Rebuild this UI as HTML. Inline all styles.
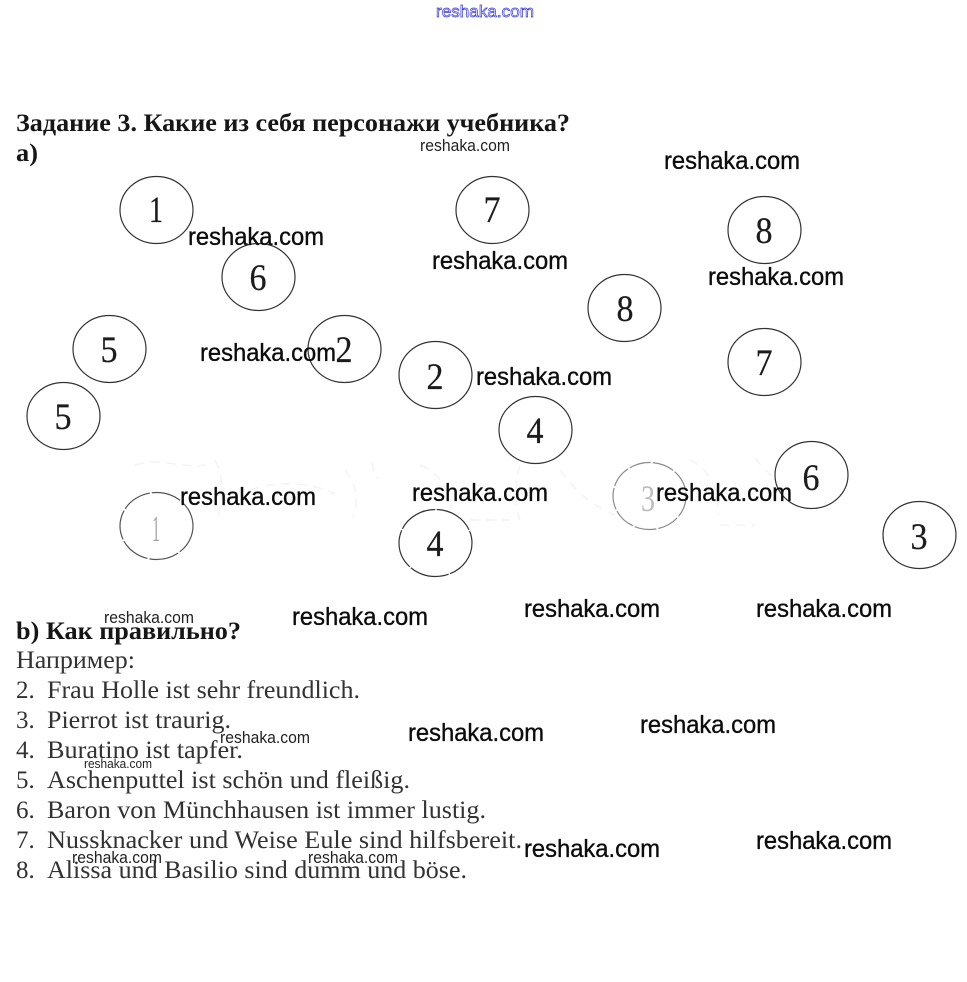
<!DOCTYPE html>
<html lang="ru"><head><meta charset="utf-8"><title>Задание 3</title>
<style>
html,body{margin:0;padding:0;background:#fff;width:967px;height:982px;overflow:hidden}
svg{display:block}
.h{font:bold 25px "Liberation Serif","Noto Serif CJK SC",serif;fill:#161616;filter:url(#b)}
.t{font:25px "Liberation Serif","Noto Serif CJK SC",serif;fill:#333;filter:url(#b)}
.n{font:37px "Liberation Serif",serif;fill:#1c1c1c;stroke:#1c1c1c;stroke-width:.25;text-anchor:middle}
.c{fill:none;stroke:#333;stroke-width:1.2}
.w{font:25px "Liberation Sans",sans-serif;fill:#0c0c0c;stroke:#0c0c0c;stroke-width:.35}
.s{font:17px "Liberation Sans",sans-serif;fill:#222}
.x{font:13px "Liberation Sans",sans-serif;fill:#222}
.f{fill:none;stroke:#f3f3f3;stroke-width:1.5;stroke-dasharray:9 7}
</style></head><body>
<svg width="967" height="982" viewBox="0 0 967 982" xmlns="http://www.w3.org/2000/svg">
<defs><filter id="b" x="-2%" y="-20%" width="104%" height="140%"><feGaussianBlur stdDeviation="0.35"/></filter></defs>
<rect width="967" height="982" fill="#fff"/>
<text x="436" y="17" textLength="98" lengthAdjust="spacingAndGlyphs" style="font:17px 'Liberation Sans',sans-serif;fill:#fff;stroke:#3434dc;stroke-width:.7">reshaka.com</text>

<text class="h" x="16" y="131" textLength="554" lengthAdjust="spacingAndGlyphs">Задание 3. Какие из себя персонажи учебника?</text>
<text class="h" x="16" y="161" textLength="22" lengthAdjust="spacingAndGlyphs">a)</text>

<g class="f">
<path d="M135 465c25-8 50 4 70 0M215 460c10 20 8 40 2 60M250 490c30-10 60-8 85 4M345 470c12 14 14 30 8 48M372 462c2 8 2 14 6 16M420 465c20 8 30 25 32 50M470 520h40M520 465c-5 20-6 40 0 55M560 470c15 20 30 35 55 45M690 460c20 10 30 30 28 55M755 458c6 8 12 14 20 20M720 525h35"/>
</g>

<g class="c">
<ellipse cx="156.5" cy="210" rx="36.5" ry="33.5"/>
<ellipse cx="492.5" cy="210" rx="36.5" ry="33.5"/>
<ellipse cx="764.5" cy="230" rx="36.5" ry="33.5"/>
<ellipse cx="258.5" cy="277" rx="36.5" ry="33.5"/>
<ellipse cx="624.5" cy="308" rx="36.5" ry="33.5"/>
<ellipse cx="109.5" cy="349" rx="36.5" ry="33.5"/>
<ellipse cx="344.5" cy="349" rx="36.5" ry="33.5"/>
<ellipse cx="435.5" cy="375" rx="36.5" ry="33.5"/>
<ellipse cx="764.5" cy="362" rx="36.5" ry="33.5"/>
<ellipse cx="63.5" cy="416" rx="36.5" ry="33.5"/>
<ellipse cx="535.5" cy="430" rx="36.5" ry="33.5"/>
<ellipse cx="811.5" cy="475" rx="36.5" ry="33.5"/>
<ellipse cx="919.5" cy="535" rx="36.5" ry="33.5"/>
<ellipse cx="435.5" cy="543" rx="36.5" ry="33.5" stroke-dasharray="40 1.5"/>
<ellipse cx="156.5" cy="526" rx="36.5" ry="33.5" stroke-dasharray="30 2" style="stroke:#555"/>
<ellipse cx="649.5" cy="496" rx="36.5" ry="33.5" stroke-dasharray="22 2" style="stroke:#8a8a8a"/>
</g>

<g>
<text class="n" x="156" y="222" textLength="14" lengthAdjust="spacingAndGlyphs">1</text>
<text class="n" x="492" y="222" textLength="17" lengthAdjust="spacingAndGlyphs">7</text>
<text class="n" x="764" y="243" textLength="17" lengthAdjust="spacingAndGlyphs">8</text>
<text class="n" x="258" y="290" textLength="17" lengthAdjust="spacingAndGlyphs">6</text>
<text class="n" x="625" y="321" textLength="17" lengthAdjust="spacingAndGlyphs">8</text>
<text class="n" x="109" y="362" textLength="17" lengthAdjust="spacingAndGlyphs">5</text>
<text class="n" x="344" y="362" textLength="17" lengthAdjust="spacingAndGlyphs">2</text>
<text class="n" x="435" y="389" textLength="17" lengthAdjust="spacingAndGlyphs">2</text>
<text class="n" x="764" y="375" textLength="17" lengthAdjust="spacingAndGlyphs">7</text>
<text class="n" x="63" y="429" textLength="17" lengthAdjust="spacingAndGlyphs">5</text>
<text class="n" x="535" y="443" textLength="17" lengthAdjust="spacingAndGlyphs">4</text>
<text class="n" x="811" y="490" textLength="17" lengthAdjust="spacingAndGlyphs">6</text>
<text class="n" x="919" y="549" textLength="17" lengthAdjust="spacingAndGlyphs">3</text>
<text class="n" x="435" y="556" textLength="17" lengthAdjust="spacingAndGlyphs">4</text>
<text class="n" x="156" y="541" textLength="8" lengthAdjust="spacingAndGlyphs" style="fill:#aaa;stroke:none">1</text>
<text class="n" x="648" y="511" textLength="14" lengthAdjust="spacingAndGlyphs" style="fill:#bbb;stroke:none">3</text>
</g>

<text class="h" x="16" y="639" textLength="225" lengthAdjust="spacingAndGlyphs">b) Как правильно?</text>
<text class="t" x="16" y="668" textLength="119" lengthAdjust="spacingAndGlyphs">Например:</text>
<g>
<text class="t" x="16" y="698">2.</text><text class="t" x="47" y="698" textLength="313" lengthAdjust="spacingAndGlyphs">Frau Holle ist sehr freundlich.</text>
<text class="t" x="16" y="728">3.</text><text class="t" x="47" y="728" textLength="184" lengthAdjust="spacingAndGlyphs">Pierrot ist traurig.</text>
<text class="t" x="16" y="758">4.</text><text class="t" x="47" y="758" textLength="196" lengthAdjust="spacingAndGlyphs">Buratino ist tapfer.</text>
<text class="t" x="16" y="788">5.</text><text class="t" x="47" y="788" textLength="363" lengthAdjust="spacingAndGlyphs">Aschenputtel ist schön und fleißig.</text>
<text class="t" x="16" y="818">6.</text><text class="t" x="47" y="818" textLength="439" lengthAdjust="spacingAndGlyphs">Baron von Münchhausen ist immer lustig.</text>
<text class="t" x="16" y="848">7.</text><text class="t" x="47" y="848" textLength="475" lengthAdjust="spacingAndGlyphs">Nussknacker und Weise Eule sind hilfsbereit.</text>
<text class="t" x="16" y="878">8.</text><text class="t" x="47" y="878" textLength="420" lengthAdjust="spacingAndGlyphs">Alissa und Basilio sind dumm und böse.</text>
</g>

<g>
<text class="w" x="664" y="169" textLength="136" lengthAdjust="spacingAndGlyphs">reshaka.com</text>
<text class="w" x="188" y="245" textLength="136" lengthAdjust="spacingAndGlyphs">reshaka.com</text>
<text class="w" x="432" y="269" textLength="136" lengthAdjust="spacingAndGlyphs">reshaka.com</text>
<text class="w" x="708" y="285" textLength="136" lengthAdjust="spacingAndGlyphs">reshaka.com</text>
<text class="w" x="200" y="361" textLength="136" lengthAdjust="spacingAndGlyphs">reshaka.com</text>
<text class="w" x="476" y="385" textLength="136" lengthAdjust="spacingAndGlyphs">reshaka.com</text>
<text class="w" x="180" y="505" textLength="136" lengthAdjust="spacingAndGlyphs">reshaka.com</text>
<text class="w" x="412" y="501" textLength="136" lengthAdjust="spacingAndGlyphs">reshaka.com</text>
<text class="w" x="656" y="501" textLength="136" lengthAdjust="spacingAndGlyphs">reshaka.com</text>
<text class="w" x="292" y="625" textLength="136" lengthAdjust="spacingAndGlyphs">reshaka.com</text>
<text class="w" x="524" y="617" textLength="136" lengthAdjust="spacingAndGlyphs">reshaka.com</text>
<text class="w" x="756" y="617" textLength="136" lengthAdjust="spacingAndGlyphs">reshaka.com</text>
<text class="w" x="408" y="741" textLength="136" lengthAdjust="spacingAndGlyphs">reshaka.com</text>
<text class="w" x="640" y="733" textLength="136" lengthAdjust="spacingAndGlyphs">reshaka.com</text>
<text class="w" x="524" y="857" textLength="136" lengthAdjust="spacingAndGlyphs">reshaka.com</text>
<text class="w" x="756" y="849" textLength="136" lengthAdjust="spacingAndGlyphs">reshaka.com</text>
<text class="s" x="420" y="151" textLength="90" lengthAdjust="spacingAndGlyphs">reshaka.com</text>
<text class="s" x="104" y="623" textLength="90" lengthAdjust="spacingAndGlyphs">reshaka.com</text>
<text class="s" x="220" y="743" textLength="90" lengthAdjust="spacingAndGlyphs">reshaka.com</text>
<text class="s" x="72" y="863" textLength="90" lengthAdjust="spacingAndGlyphs">reshaka.com</text>
<text class="s" x="308" y="863" textLength="90" lengthAdjust="spacingAndGlyphs">reshaka.com</text>
<text class="x" x="84" y="768" textLength="68" lengthAdjust="spacingAndGlyphs">reshaka.com</text>
</g>
</svg>
</body></html>
